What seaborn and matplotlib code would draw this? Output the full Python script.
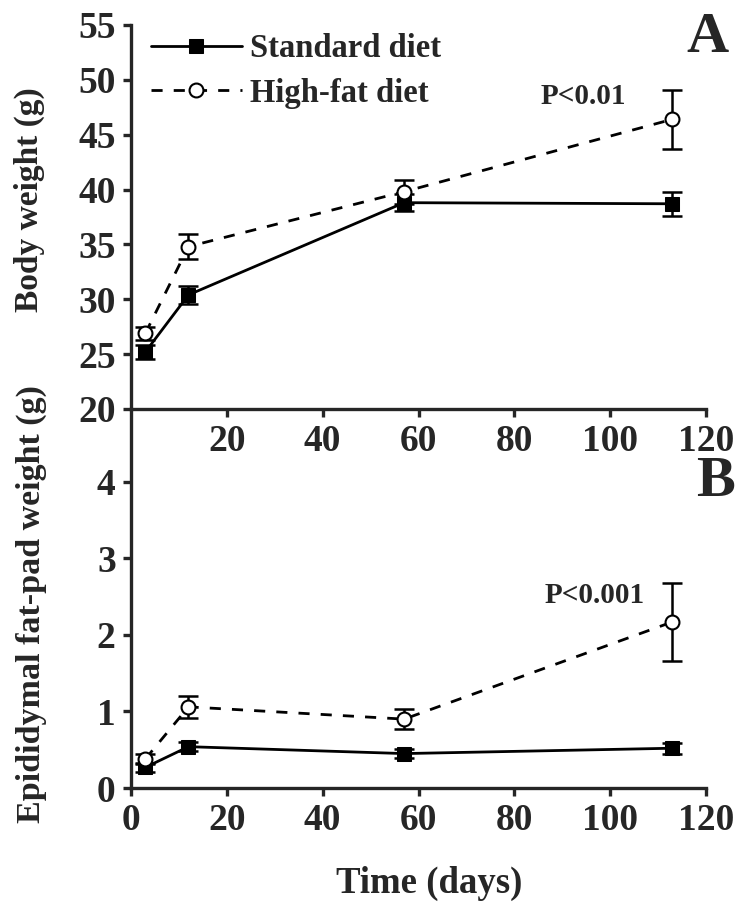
import numpy as np
import pandas as pd
import matplotlib
matplotlib.use("Agg")
import matplotlib.pyplot as plt
import seaborn as sns

sns.set_style("ticks")
plt.rcParams['font.family'] = ['Liberation Serif', 'DejaVu Serif']
plt.rcParams['font.weight'] = 'bold'

days = [3, 12, 57, 113]
bw_std = [25.2, 30.4, 38.8, 38.7]
bw_std_err = [0.6, 0.8, 0.8, 1.1]
bw_hf = [26.9, 34.8, 39.8, 46.4]
bw_hf_err = [0.6, 1.15, 1.1, 2.7]
fp_std = [0.27, 0.54, 0.45, 0.52]
fp_std_err = [0.06, 0.06, 0.06, 0.07]
fp_hf = [0.38, 1.06, 0.90, 2.17]
fp_hf_err = [0.06, 0.14, 0.13, 0.51]
groups = ["Standard diet", "High-fat diet"]

fig = plt.figure(figsize=(7.46, 9.22), dpi=100)
axB = fig.add_axes([0.1756, 0.1453, 0.7708, 0.4111])
axA = fig.add_axes([0.1756, 0.5564, 0.7708, 0.4166])
axA.set_zorder(3)
axB.set_zorder(1)
axA.patch.set_alpha(0)
axB.patch.set_alpha(0)

def draw(ax, ystd, estd, yhf, ehf):
    df = pd.DataFrame({
        "day": days * 2,
        "value": ystd + yhf,
        "group": [groups[0]] * 4 + [groups[1]] * 4,
    })
    ax.errorbar(days, ystd, yerr=estd, fmt='none', ecolor='black', elinewidth=1.8,
                capsize=7, capthick=1.8, zorder=2)
    ax.errorbar(days, yhf, yerr=ehf, fmt='none', ecolor='black', elinewidth=1.8,
                capsize=7, capthick=1.8, zorder=2)
    sns.lineplot(data=df[df.group == groups[0]], x="day", y="value", ax=ax,
                 color='black', lw=2, marker='s', markersize=10, markerfacecolor='black',
                 markeredgecolor='black', label=groups[0], zorder=3)
    sns.lineplot(data=df[df.group == groups[1]], x="day", y="value", ax=ax,
                 color='black', lw=2, marker='o', markersize=10, markerfacecolor='white',
                 markeredgecolor='black', markeredgewidth=1.5, label=groups[1], zorder=4)
    ax.lines[-1].set_dashes([4, 4])
    for s in ['top', 'right']:
        ax.spines[s].set_visible(False)
    for s in ['left', 'bottom']:
        ax.spines[s].set_linewidth(2.4)
    ax.tick_params(width=2.4, length=6, labelsize=27, pad=5)
    ax.set_xlabel("")
    ax.set_ylabel("")

draw(axA, bw_std, bw_std_err, bw_hf, bw_hf_err)
draw(axB, fp_std, fp_std_err, fp_hf, fp_hf_err)

axA.set_xlim(0, 120)
axA.set_ylim(20, 55)
axA.set_xticks([20, 40, 60, 80, 100, 120])
axA.set_yticks([20, 25, 30, 35, 40, 45, 50, 55])
axA.set_ylabel("Body weight (g)", fontsize=24, fontweight='bold')
axA.yaxis.set_label_coords(-0.150, 0.544)
for lab in axA.get_xticklabels() + axA.get_yticklabels():
    lab.set_fontweight('bold')

axB.set_xlim(0, 120)
axB.set_ylim(0, 4.95)
axB.set_xticks([0, 20, 40, 60, 80, 100, 120])
axB.set_yticks([0, 1, 2, 3, 4])
axB.set_ylabel("Epididymal fat-pad weight (g)", fontsize=24.5, fontweight='bold')
axB.yaxis.set_label_coords(-0.146, 0.485)
axB.set_xlabel("Time (days)", fontsize=26.5, fontweight='bold')
axB.xaxis.set_label_coords(0.518, -0.205)
for lab in axB.get_xticklabels() + axB.get_yticklabels():
    lab.set_fontweight('bold')
axB.get_legend().remove()

leg = axA.legend(loc='upper left', bbox_to_anchor=(0.0, 1.03), frameon=False,
                 prop={'size': 23.5, 'weight': 'bold'}, handlelength=2.8,
                 handletextpad=0.25, labelspacing=0.42, borderaxespad=0.2)
axA.text(1.039, 1.034, "A", transform=axA.transAxes, ha='right', va='top',
         fontsize=42, fontweight='bold')
axA.text(94.4, 48.5, "P<0.01", ha='center', va='center', fontsize=21, fontweight='bold')
axB.text(1.051, 0.875, "B", transform=axB.transAxes, ha='right', va='top',
         fontsize=42, fontweight='bold')
axB.text(96.7, 2.52, "P<0.001", ha='center', va='center', fontsize=21, fontweight='bold')

fig.savefig("out.png", dpi=100)
